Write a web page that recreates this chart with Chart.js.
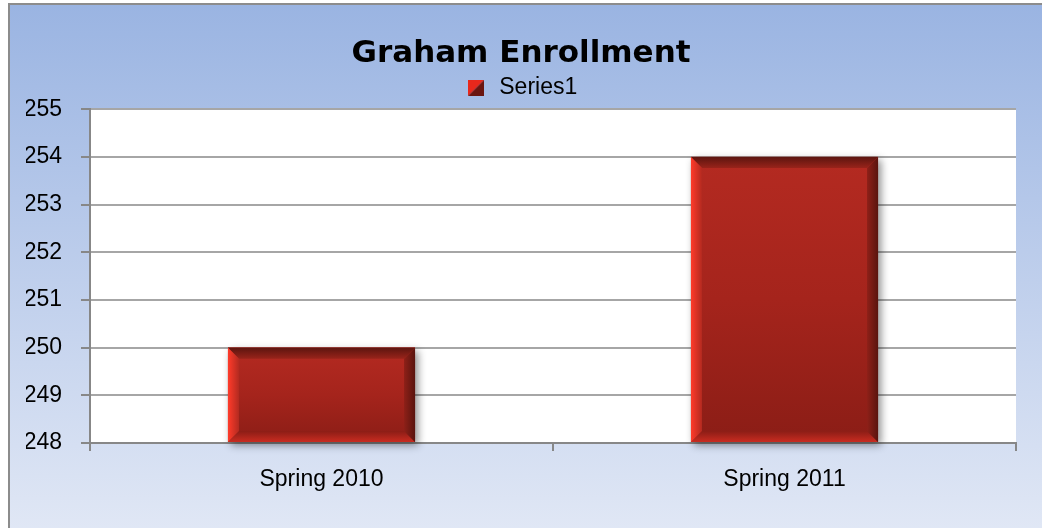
<!DOCTYPE html>
<html>
<head>
<meta charset="utf-8">
<script src="https://cdn.jsdelivr.net/npm/chart.js@4"></script>
<style>
  html, body { margin: 0; padding: 0; background: #fff; }
  #wrap { width: 1042px; height: 528px; }
</style>
</head>
<body>
<div id="wrap"><canvas id="enrollChart" width="1042" height="528"></canvas></div>
<script>
// chart data
const chartTitle = "Graham Enrollment";
const seriesName = "Series1";
const categories = ["Spring 2010", "Spring 2011"];
const enrollment = [250, 254];
const yMin = 248;
const yMax = 255;
const yStep = 1;

// little legend swatch: split diagonally like the reference
function makeSwatch() {
    const c = document.createElement("canvas");
    c.width = 16; c.height = 16;
    const g = c.getContext("2d");
    g.fillStyle = "#e8281c";
    g.beginPath(); g.moveTo(0, 0); g.lineTo(16, 0); g.lineTo(0, 16); g.closePath(); g.fill();
    g.fillStyle = "#6a1510";
    g.beginPath(); g.moveTo(16, 0); g.lineTo(16, 16); g.lineTo(0, 16); g.closePath(); g.fill();
    return c;
}

function poly(ctx, pts, fill) {
    ctx.fillStyle = fill;
    ctx.beginPath();
    ctx.moveTo(pts[0][0], pts[0][1]);
    for (let i = 1; i < pts.length; i++) ctx.lineTo(pts[i][0], pts[i][1]);
    ctx.closePath();
    ctx.fill();
}

function barBox(chart, bar) {
    const p = bar.getProps(["x", "y", "base", "width"], true);
    const bottom = Math.min(p.base, chart.chartArea.bottom);
    return { l: p.x - p.width / 2, r: p.x + p.width / 2, t: p.y, b: bottom };
}

const backdrop = {
    id: "backdrop",
    beforeDraw(chart) {
        const ctx = chart.ctx;
        const w = chart.width, h = chart.height;
        const area = chart.chartArea;
        ctx.save();
        ctx.fillStyle = "#fff";
        ctx.fillRect(0, 0, w, h);
        const g = ctx.createLinearGradient(0, 4, 0, h);
        g.addColorStop(0, "#9ab4e2");
        g.addColorStop(1, "#e0e7f5");
        ctx.fillStyle = g;
        ctx.fillRect(9, 4, w - 9, h - 4);
        ctx.strokeStyle = "#8c8c8c";
        ctx.lineWidth = 2;
        ctx.beginPath();
        ctx.moveTo(9, h); ctx.lineTo(9, 4); ctx.lineTo(w, 4);
        ctx.stroke();
        ctx.fillStyle = "#fff";
        ctx.fillRect(area.left, area.top, area.right - area.left, area.bottom - area.top);
        ctx.restore();
    }
};

const bevelBars = {
    id: "bevelBars",
    beforeDatasetsDraw(chart) {
        const ctx = chart.ctx;
        ctx.save();
        chart.getDatasetMeta(0).data.forEach(bar => {
            const q = barBox(chart, bar);
            ctx.shadowColor = "rgba(0,0,0,0.45)";
            ctx.shadowBlur = 8;
            ctx.shadowOffsetX = 3;
            ctx.shadowOffsetY = 3;
            ctx.fillStyle = "#8a1d15";
            ctx.fillRect(q.l, q.t, q.r - q.l, q.b - q.t);
        });
        ctx.restore();
    },
    afterDatasetsDraw(chart) {
        const ctx = chart.ctx;
        const s = 11;
        ctx.save();
        chart.getDatasetMeta(0).data.forEach(bar => {
            const { l, r, t, b } = barBox(chart, bar);

            let g = ctx.createLinearGradient(0, t, 0, b);
            g.addColorStop(0, "#b42a21");
            g.addColorStop(0.5, "#a5241c");
            g.addColorStop(1, "#8b1d16");
            ctx.fillStyle = g;
            ctx.fillRect(l, t, r - l, b - t);

            g = ctx.createLinearGradient(0, t, 0, t + s);
            g.addColorStop(0, "#5c150f");
            g.addColorStop(1, "#98231a");
            poly(ctx, [[l, t], [r, t], [r - s, t + s], [l + s, t + s]], g);

            g = ctx.createLinearGradient(0, b - s, 0, b);
            g.addColorStop(0, "#8b1d16");
            g.addColorStop(1, "#c92c21");
            poly(ctx, [[l, b], [r, b], [r - s, b - s], [l + s, b - s]], g);

            g = ctx.createLinearGradient(l, 0, l + s, 0);
            g.addColorStop(0, "#ff3b2a");
            g.addColorStop(1, "#b32a20");
            poly(ctx, [[l, t], [l + s, t + s], [l + s, b - s], [l, b]], g);

            g = ctx.createLinearGradient(r - s, 0, r, 0);
            g.addColorStop(0, "#8e2018");
            g.addColorStop(1, "#5a140e");
            poly(ctx, [[r, t], [r, b], [r - s, b - s], [r - s, t + s]], g);
        });
        ctx.restore();
    }
};

const ctx = document.getElementById("enrollChart").getContext("2d");
new Chart(ctx, {
    type: "bar",
    data: {
        labels: categories,
        datasets: [{
            label: seriesName,
            data: enrollment,
            base: yMin,
            backgroundColor: "#a5241c",
            borderWidth: 0,
            barPercentage: 1,
            categoryPercentage: 0.404,
            pointStyle: makeSwatch()
        }]
    },
    options: {
        responsive: false,
        animation: false,
        layout: { padding: { left: 26, right: 26, top: 0, bottom: 0 } },
        plugins: {
            title: {
                display: true,
                text: chartTitle,
                color: "#000",
                font: { family: "DejaVu Sans", weight: "bold", size: 31 },
                padding: { top: 35, bottom: 2 }
            },
            legend: {
                display: true,
                position: "top",
                labels: {
                    usePointStyle: true,
                    color: "#000",
                    font: { family: "Liberation Sans", size: 23 },
                    padding: 2
                }
            },
            tooltip: { enabled: false }
        },
        scales: {
            x: {
                grid: {
                    drawOnChartArea: false,
                    color: "#878787",
                    lineWidth: 2,
                    tickLength: 8,
                    offset: true
                },
                border: { display: true, color: "#878787", width: 2 },
                ticks: {
                    color: "#000",
                    font: { family: "Liberation Sans", size: 23 },
                    padding: 15
                },
                afterFit(scale) { scale.height = 85; }
            },
            y: {
                min: yMin,
                max: yMax,
                grid: {
                    color: "#a6a6a6",
                    lineWidth: 2,
                    tickLength: 9,
                    tickColor: "#878787"
                },
                border: { display: true, color: "#878787", width: 2 },
                ticks: {
                    stepSize: yStep,
                    color: "#000",
                    font: { family: "Liberation Sans", size: 23 },
                    padding: 19
                },
                afterFit(scale) { scale.width = 64; }
            }
        }
    },
    plugins: [backdrop, bevelBars]
});
</script>
</body>
</html>
